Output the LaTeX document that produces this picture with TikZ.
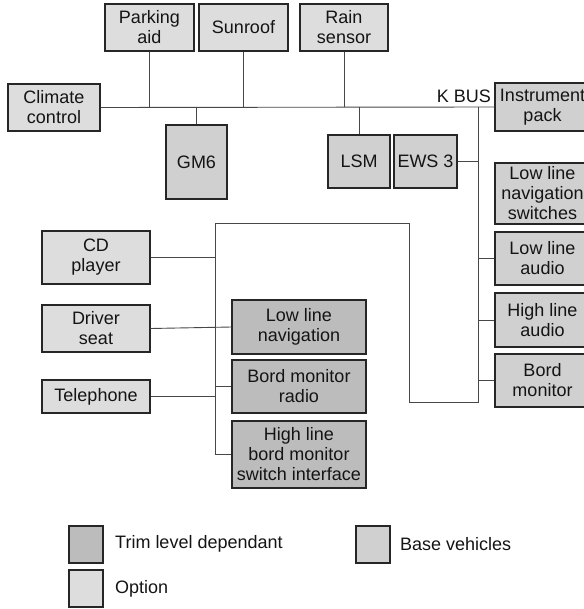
\documentclass[tikz,border=0pt]{standalone}
\usepackage{fontspec}
\setmainfont{Liberation Sans}
\usepackage{xcolor}
\usepackage{tikz}

\begin{document}
\begin{tikzpicture}[x=1bp,y=-1bp,
  unitbox/.style={draw=black!85,line width=1.2bp,inner sep=0pt,align=center,text=black!92,
    font=\fontsize{18bp}{20bp}\selectfont},
  optbox/.style={unitbox,fill=cop},
  basebox/.style={unitbox,fill=cbase},
  trimbox/.style={unitbox,fill=ctrim},
  wire/.style={black!72,line width=0.9bp},
  legtext/.style={anchor=west,inner sep=0pt,text=black!92,font=\fontsize{18bp}{20bp}\selectfont}]
\definecolor{cop}{RGB}{221,221,221}
\definecolor{cbase}{RGB}{208,208,208}
\definecolor{ctrim}{RGB}{188,188,188}
\useasboundingbox (0,0) rectangle (584,609);
% top row
\node[optbox,minimum width=89bp,minimum height=47bp] (park) at (149.5,27.5) {Parking\\aid};
\node[optbox,minimum width=89bp,minimum height=47bp] (roof) at (243.5,27.5) {Sunroof};
\node[optbox,minimum width=88bp,minimum height=47bp] (rain) at (344,27.5) {Rain\\sensor};
\node[optbox,minimum width=92bp,minimum height=47bp] (clim) at (54,107.5) {Climate\\control};
% under the bus
\node[basebox,minimum width=61bp,minimum height=74bp] (gm) at (196.5,162) {GM6};
\node[basebox,minimum width=62bp,minimum height=53bp] (lsm) at (359,161.5) {LSM};
\node[basebox,minimum width=63bp,minimum height=53bp] (ews) at (425.5,161.5) {EWS 3};
% right column
\node[basebox,minimum width=95bp,minimum height=48bp] (inst) at (542.5,107) {Instrument\\pack};
\node[basebox,minimum width=95bp,minimum height=61bp] (llns) at (542.5,193.5) {Low line\\navigation\\switches};
\node[basebox,minimum width=95bp,minimum height=53bp] (llaud) at (542.5,258.5) {Low line\\audio};
\node[basebox,minimum width=95bp,minimum height=54bp] (hlaud) at (542.5,320) {High line\\audio};
\node[basebox,minimum width=95bp,minimum height=53bp] (bord) at (542.5,380.5) {Bord\\monitor};
% left column
\node[optbox,minimum width=108bp,minimum height=53bp] (cd) at (96,257.5) {CD\\player};
\node[optbox,minimum width=108bp,minimum height=47bp] (seat) at (96,328.5) {Driver\\seat};
\node[optbox,minimum width=108bp,minimum height=33bp] (tel) at (96,396.5) {Telephone};
% middle column
\node[trimbox,minimum width=134bp,minimum height=54bp] (llnav) at (299,327) {Low line\\navigation};
\node[trimbox,minimum width=134bp,minimum height=53bp] (bmr) at (299,386.5) {Bord monitor\\radio};
\node[trimbox,minimum width=134bp,minimum height=67bp] (hlbm) at (299,454.5) {High line\\bord monitor\\switch interface};
\node[anchor=base east,inner sep=0pt,text=black!92,font=\fontsize{18bp}{20bp}\selectfont] (kbus) at (491,103) {K BUS};
% K bus and its run
\coordinate (k1) at (478,107);
\coordinate (k2) at (478,402);
\coordinate (k3) at (409,402);
\coordinate (k4) at (409,223);
\coordinate (k5) at (215,223);
\draw[wire] (clim.east) -- (inst.west);
\draw[wire] (park.south) -- (park.south |- clim.east);
\draw[wire] (roof.south) -- (roof.south |- clim.east);
\draw[wire] (rain.south) -- (rain.south |- clim.east);
\draw[wire] (gm.north) -- (gm.north |- clim.east);
\draw[wire] (lsm.north) -- (lsm.north |- clim.east);
\draw[wire] (k1) -- (k2) -- (k3) -- (k4) -- (k5) -- (k5 |- hlbm.west) -- (hlbm.west);
\draw[wire] (ews.east) -- (ews.east -| k1);
\draw[wire] (llaud.west) -- (llaud.west -| k1);
\draw[wire] (hlaud.west) -- (hlaud.west -| k1);
\draw[wire] (bord.west) -- (bord.west -| k1);
\draw[wire] (cd.east) -- (cd.east -| k5);
\draw[wire] (seat.east) -- (llnav.west);
\draw[wire] (tel.east) -- (tel.east -| k5);
\draw[wire] (bmr.west) -- (bmr.west -| k5);
% legend
\node[trimbox,minimum width=34bp,minimum height=37bp] (legtrim) at (86,544.5) {};
\node[optbox,minimum width=34bp,minimum height=37bp] (legopt) at (86,588.5) {};
\node[basebox,minimum width=34bp,minimum height=37bp] (legbase) at (373,544.5) {};
\node[legtext] (ttrim) at (115,544) {Trim level dependant};
\node[legtext] (topt) at (115,589) {Option};
\node[legtext] (tbase) at (400,544) {Base vehicles};
\end{tikzpicture}
\end{document}
